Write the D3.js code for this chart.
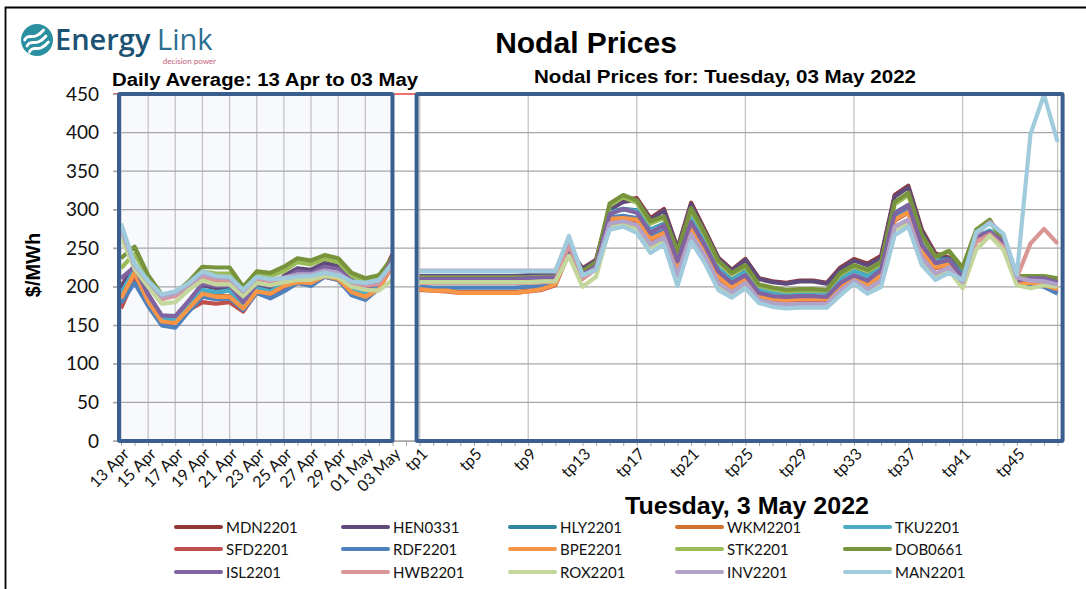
<!DOCTYPE html>
<meta charset="utf-8">
<style>
    html, body {
        margin: 0;
        padding: 0;
        background: #fff;
    }
    svg text {
        font-family: Lato, "Open Sans", sans-serif;
    }
    .title {
        font-family: "Liberation Sans", Arial, sans-serif !important;
        font-weight: bold;
        fill: #000;
    }
    .tick-label {
        font-size: 16px;
        fill: #111;
    }
    .legend text {
        font-size: 15px;
        fill: #111;
    }
</style>
<body>
<svg id="chart" width="1086" height="589"></svg>
<script src="https://cdn.jsdelivr.net/npm/d3@7"></script>
<script>
    // category labels
    var days = ["13 Apr", "14 Apr", "15 Apr", "16 Apr", "17 Apr", "18 Apr", "19 Apr", "20 Apr", "21 Apr",
        "22 Apr", "23 Apr", "24 Apr", "25 Apr", "26 Apr", "27 Apr", "28 Apr", "29 Apr", "30 Apr",
        "01 May", "02 May", "03 May"];
    var tps = d3.range(1, 49).map(function(n) { return "tp" + n; });
    var yTicks = [0, 50, 100, 150, 200, 250, 300, 350, 400, 450];

    var nodes = ["MDN2201", "HEN0331", "HLY2201", "WKM2201", "TKU2201",
        "SFD2201", "RDF2201", "BPE2201", "STK2201", "DOB0661",
        "ISL2201", "HWB2201", "ROX2201", "INV2201", "MAN2201"];

    // daily averages, 13 Apr .. 03 May
    var daily = {
        MDN2201: [200, 228, 190, 162, 160, 180, 203, 200, 200, 178, 202, 199, 213, 222, 220, 230, 226, 208, 198, 205, 242],
        HEN0331: [198, 227, 189, 161, 159, 179, 202, 198, 199, 177, 201, 198, 214, 224, 222, 231, 227, 209, 199, 206, 240],
        HLY2201: [190, 222, 185, 158, 157, 176, 195, 192, 196, 176, 197, 193, 203, 208, 208, 215, 212, 197, 192, 200, 232],
        WKM2201: [186, 219, 182, 156, 154, 173, 192, 188, 188, 173, 195, 192, 202, 207, 206, 214, 211, 194, 188, 198, 230],
        TKU2201: [191, 223, 186, 158, 157, 177, 196, 193, 195, 177, 198, 194, 204, 209, 208, 215, 212, 198, 193, 201, 233],
        SFD2201: [172, 212, 177, 153, 152, 170, 180, 178, 180, 168, 193, 188, 198, 205, 203, 213, 209, 191, 186, 197, 228],
        RDF2201: [179, 205, 175, 150, 147, 168, 187, 184, 185, 170, 192, 185, 194, 205, 201, 213, 209, 189, 183, 198, 231],
        BPE2201: [185, 218, 181, 155, 153, 172, 191, 187, 187, 172, 194, 191, 201, 206, 205, 214, 210, 193, 187, 197, 229],
        STK2201: [224, 243, 212, 188, 190, 205, 220, 217, 217, 197, 217, 214, 220, 232, 229, 236, 232, 214, 208, 212, 235],
        DOB0661: [237, 252, 215, 190, 192, 207, 226, 225, 225, 200, 220, 218, 226, 237, 234, 241, 237, 218, 211, 215, 238],
        ISL2201: [211, 226, 190, 163, 162, 182, 204, 201, 202, 180, 204, 201, 210, 220, 218, 226, 223, 207, 199, 204, 236],
        HWB2201: [271, 226, 205, 184, 188, 201, 213, 208, 208, 192, 210, 207, 209, 212, 213, 217, 215, 204, 201, 204, 228],
        ROX2201: [265, 223, 200, 178, 180, 196, 208, 203, 203, 188, 205, 202, 206, 209, 209, 214, 212, 200, 196, 195, 209],
        INV2201: [276, 228, 207, 187, 191, 203, 216, 212, 211, 194, 212, 209, 212, 216, 216, 221, 218, 206, 204, 207, 232],
        MAN2201: [282, 230, 208, 190, 194, 205, 220, 214, 213, 196, 213, 210, 211, 213, 214, 218, 215, 207, 205, 209, 230]
    };

    // trading periods tp1 .. tp48 for 03 May
    var periods = {
        MDN2201: [213,213,213,213,213,213,213,213,214,215,214,248,224,235,302,312,315,289,301,250,309,274,238,222,236,211,207,205,208,208,205,225,236,230,240,319,331,274,243,238,220,264,272,258,210,210,210,207],
        HEN0331: [214,214,214,214,214,214,214,214,215,216,215,250,223,234,300,310,313,287,299,249,307,272,237,221,235,210,206,204,207,207,204,223,234,228,238,317,329,272,241,236,219,265,272,258,210,211,211,208],
        HLY2201: [208,208,208,208,208,208,208,208,209,210,210,250,218,229,297,301,299,274,282,236,290,258,224,209,220,197,194,192,194,194,193,212,222,214,226,296,306,257,234,236,215,264,272,260,207,207,206,201],
        WKM2201: [198,196,195,193,193,193,193,193,195,197,203,245,214,226,289,290,287,263,271,226,277,248,214,200,211,189,185,184,185,185,185,203,213,203,216,288,298,248,226,230,208,262,270,256,206,204,203,198],
        TKU2201: [209,209,209,209,209,209,209,209,210,211,211,252,217,228,296,300,298,273,281,235,289,257,223,208,219,196,193,191,193,193,192,211,221,213,225,295,305,256,233,235,214,264,273,262,207,207,206,202],
        SFD2201: [196,195,194,192,192,192,192,192,194,196,202,244,211,224,286,288,285,261,269,224,275,246,212,198,209,187,183,182,183,183,183,201,211,201,214,286,296,246,224,228,206,262,270,256,205,203,201,195],
        RDF2201: [200,199,199,199,199,199,199,199,200,201,204,250,213,226,290,292,289,265,273,228,279,250,215,201,212,190,186,185,186,186,186,204,214,205,218,290,300,250,227,231,209,263,271,257,206,202,200,191],
        BPE2201: [197,195,195,192,192,192,192,192,194,197,203,245,212,225,288,289,287,262,270,225,276,247,213,199,210,188,184,183,184,184,184,202,212,202,215,287,297,247,225,229,207,262,270,256,205,205,202,197],
        STK2201: [212,212,212,212,212,212,212,212,212,213,213,252,218,230,305,316,309,282,289,244,299,268,232,216,226,201,197,194,195,195,195,216,226,220,230,307,319,265,238,247,224,272,286,257,213,213,213,210],
        DOB0661: [211,211,211,211,211,211,211,211,211,212,212,250,220,232,308,319,312,285,291,246,302,270,234,218,228,203,199,196,197,197,196,218,228,222,232,310,322,267,239,246,225,274,287,258,214,214,214,211],
        ISL2201: [210,210,210,210,210,210,210,210,211,212,212,248,216,227,294,301,296,270,280,233,284,254,220,205,215,192,188,187,188,188,187,205,215,208,222,295,306,254,231,235,212,265,271,258,208,211,211,206],
        HWB2201: [205,205,205,205,205,205,205,205,205,206,207,255,210,223,280,284,279,254,262,214,266,239,204,192,204,182,178,176,177,177,177,194,207,196,207,276,285,237,216,223,204,258,268,252,212,256,275,256],
        ROX2201: [206,206,206,206,206,206,206,206,206,207,207,240,200,213,277,281,276,251,259,210,263,236,201,190,202,181,177,175,176,176,176,193,206,195,206,274,283,235,214,221,198,248,266,248,202,198,202,200],
        INV2201: [221,221,221,221,221,221,221,221,221,221,221,262,214,224,282,285,280,255,264,215,268,240,205,193,205,183,179,177,178,178,178,195,208,197,208,278,287,238,217,225,206,268,284,268,212,208,207,203],
        MAN2201: [220,220,220,220,220,220,220,220,220,220,220,266,215,222,274,278,270,244,255,201,259,231,196,186,198,179,174,172,173,173,173,189,204,191,200,267,278,228,209,218,209,271,282,269,216,398,449,388]
    };

    var colors = ["#953735", "#604a7b", "#31859c", "#d2702e", "#4bacc6",
        "#c0504d", "#4f81bd", "#f79646", "#9bbb59", "#77933c",
        "#8064a2", "#d99694", "#c3d69b", "#b3a2c7", "#9fcbdc"];

    var svg = d3.select("#chart");

    // one category axis: days, an empty slot, then the trading periods
    var categories = days.concat([" "], tps);
    var x = d3.scalePoint().domain(categories).range([121, 1057.6]);
    var y = d3.scaleLinear().domain([0, 450]).range([441, 94]);

    // outer frame
    svg.append("path")
        .attr("d", "M5.5,589 V7.5 H1086")
        .attr("fill", "none")
        .attr("stroke", "#000")
        .attr("stroke-width", 1.8);

    // logo
    var logo = svg.append("g");
    logo.append("circle").attr("cx", 37).attr("cy", 40).attr("r", 16).attr("fill", "#2b8fa2");
    [-6, 0, 6].forEach(function(o) {
        logo.append("path")
            .attr("d", "M" + (27 + o * 0.4) + "," + (46 + o) + " C" + (31 + o * 0.4) + "," + (38 + o) + " " + (36 + o * 0.4) + "," + (48 + o) + " " + (46 + o * 0.4) + "," + (36 + o))
            .attr("fill", "none")
            .attr("stroke", "#fff")
            .attr("stroke-width", 2.8)
            .attr("stroke-linecap", "round");
    });
    logo.append("text").attr("x", 55).attr("y", 50)
        .style("font-family", "'Open Sans'").style("font-size", "29px").style("font-weight", 600)
        .attr("fill", "#1b5273").text("Energy");
    logo.append("text").attr("x", 157).attr("y", 50)
        .style("font-family", "'Open Sans'").style("font-size", "29px")
        .attr("fill", "#2b6e90").text("Link");
    logo.append("text").attr("x", 216).attr("y", 64).attr("text-anchor", "end")
        .style("font-size", "8px").attr("fill", "#c4607a").text("decision power");

    // titles
    svg.append("text").attr("class", "title").attr("x", 586).attr("y", 53)
        .attr("text-anchor", "middle").style("font-size", "30px").text("Nodal Prices");
    svg.append("text").attr("class", "title").attr("x", 265).attr("y", 86)
        .attr("text-anchor", "middle").style("font-size", "18px")
        .attr("textLength", 306).attr("lengthAdjust", "spacingAndGlyphs")
        .text("Daily Average: 13 Apr to 03 May");
    svg.append("text").attr("class", "title").attr("x", 725).attr("y", 83)
        .attr("text-anchor", "middle").style("font-size", "18px")
        .attr("textLength", 382).attr("lengthAdjust", "spacingAndGlyphs")
        .text("Nodal Prices for: Tuesday, 03 May 2022");
    svg.append("text").attr("class", "title").attr("x", 747).attr("y", 514)
        .attr("text-anchor", "middle").style("font-size", "24px")
        .attr("textLength", 244).attr("lengthAdjust", "spacingAndGlyphs")
        .text("Tuesday, 3 May 2022");
    svg.append("text").attr("class", "title")
        .attr("transform", "translate(40,265) rotate(-90)")
        .attr("text-anchor", "middle").style("font-size", "20px").text("$/MWh");

    // left panel background
    var leftX0 = x(days[0]) - 2, leftX1 = x(days[days.length - 1]);
    var rightX0 = x(tps[0]) - 3, rightX1 = x(tps[tps.length - 1]) + 5;
    svg.append("rect")
        .attr("x", leftX0).attr("y", y(450))
        .attr("width", leftX1 - leftX0).attr("height", y(0) - y(450))
        .attr("fill", "#f7f9fc");

    // vertical gridlines
    var vGrid = days.filter(function(d, i) { return i % 2 === 0; })
        .concat(["tp1", "tp9", "tp17", "tp25", "tp33", "tp41", "tp48"]);
    svg.append("g").selectAll("line").data(vGrid).enter().append("line")
        .attr("x1", function(d) { return x(d); }).attr("x2", function(d) { return x(d); })
        .attr("y1", y(450)).attr("y2", y(0))
        .attr("stroke", "#c4c4c4").attr("stroke-width", 1.3);

    // horizontal gridlines
    svg.append("g").selectAll("line").data(yTicks).enter().append("line")
        .attr("x1", 113).attr("x2", rightX1)
        .attr("y1", function(d) { return y(d); }).attr("y2", function(d) { return y(d); })
        .attr("stroke", function(d) { return d === 450 ? "#e8403a" : "#a6a6a6"; })
        .attr("stroke-width", 1.3);

    // y axis
    var yAxis = d3.axisLeft(y).tickValues(yTicks).tickSize(5).tickPadding(14);
    var yg = svg.append("g").attr("transform", "translate(118,0)").call(yAxis);
    yg.select(".domain").attr("stroke", "#a6a6a6");
    yg.selectAll(".tick line").attr("stroke", "#a6a6a6");
    yg.selectAll(".tick text").style("font-size", "19px").style("font-family", "Lato").attr("fill", "#111");

    // x axis: a tick at every category
    var xAxis = d3.axisBottom(x).tickSize(5).tickFormat("");
    var xg = svg.append("g").attr("transform", "translate(0," + y(0) + ")").call(xAxis);
    xg.select(".domain").attr("stroke", "#a6a6a6").attr("d", "M113,0.5H" + rightX1);
    xg.selectAll(".tick line").attr("stroke", "#a6a6a6");

    var xLabels = days.filter(function(d, i) { return i % 2 === 0; })
        .concat(tps.filter(function(d, i) { return i % 4 === 0; }));
    svg.append("g").selectAll("text").data(xLabels).enter().append("text")
        .attr("class", "tick-label")
        .attr("text-anchor", "end")
        .attr("transform", function(d) { return "translate(" + (x(d) + 9) + "," + 455 + ") rotate(-45)"; })
        .text(function(d) { return d; });

    // lines
    var line = d3.line()
        .x(function(d) { return x(d.cat); })
        .y(function(d) { return y(d.v); });
    var lines = svg.append("g").attr("fill", "none")
        .attr("stroke-width", 4.2).attr("stroke-linejoin", "round");
    nodes.forEach(function(n, i) {
        lines.append("path")
            .attr("stroke", colors[i])
            .attr("d", line(daily[n].map(function(v, j) { return {cat: days[j], v: v}; })));
        lines.append("path")
            .attr("stroke", colors[i])
            .attr("d", line(periods[n].map(function(v, j) { return {cat: tps[j], v: v}; })));
    });

    // panel frames
    [[leftX0, leftX1], [rightX0, rightX1]].forEach(function(p) {
        svg.append("rect")
            .attr("x", p[0]).attr("y", y(450))
            .attr("width", p[1] - p[0]).attr("height", y(0) - y(450))
            .attr("fill", "none")
            .attr("stroke", "#3a5f8e").attr("stroke-width", 4)
            .attr("rx", 1);
    });

    // legend
    var legendX = [176, 343, 510, 677, 845];
    var legendY = [527, 549, 572];
    var legend = svg.append("g").attr("class", "legend");
    nodes.forEach(function(n, i) {
        var lx = legendX[i % 5], ly = legendY[Math.floor(i / 5)];
        legend.append("line")
            .attr("x1", lx).attr("x2", lx + 45).attr("y1", ly).attr("y2", ly)
            .attr("stroke", colors[i]).attr("stroke-width", 4).attr("stroke-linecap", "round");
        legend.append("text").attr("x", lx + 50).attr("y", ly + 5.5).text(n);
    });
</script>
</body>
